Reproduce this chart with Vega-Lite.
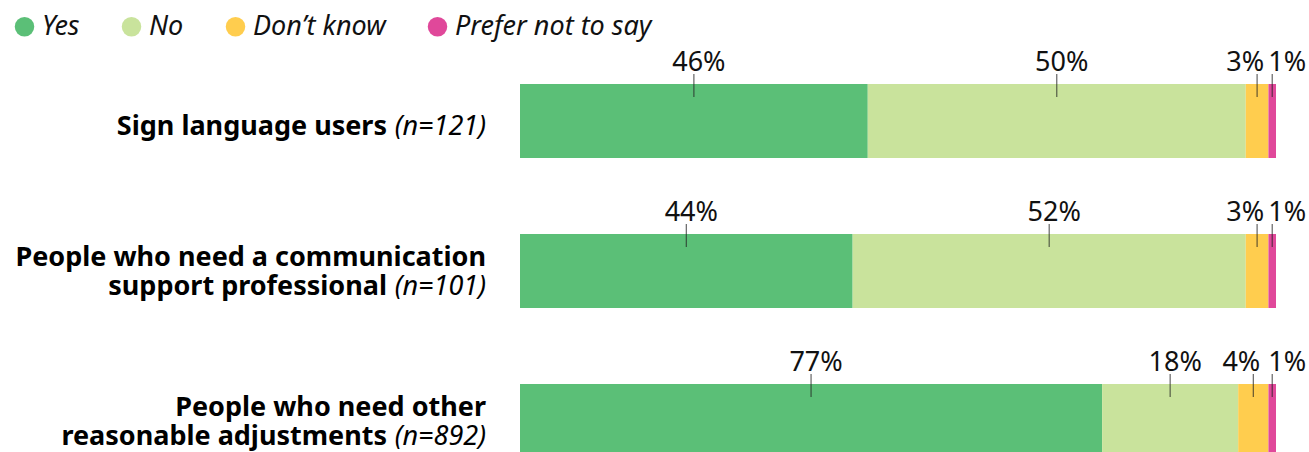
{
  "$schema": "https://vega.github.io/schema/vega-lite/v6.json",
  "width": 756,
  "height": 406,
  "autosize": {"type": "none"},
  "padding": {"left": 520, "top": 46, "right": 33, "bottom": 0},
  "background": "white",
  "config": {"view": {"stroke": null}, "font": "Noto Sans"},
  "datasets": {
    "bars": [
      {"group": "Sign language users", "response": "Yes", "value": 46},
      {"group": "Sign language users", "response": "No", "value": 50},
      {"group": "Sign language users", "response": "Don’t know", "value": 3},
      {"group": "Sign language users", "response": "Prefer not to say", "value": 1},
      {"group": "Communication support", "response": "Yes", "value": 44},
      {"group": "Communication support", "response": "No", "value": 52},
      {"group": "Communication support", "response": "Don’t know", "value": 3},
      {"group": "Communication support", "response": "Prefer not to say", "value": 1},
      {"group": "Other adjustments", "response": "Yes", "value": 77},
      {"group": "Other adjustments", "response": "No", "value": 18},
      {"group": "Other adjustments", "response": "Don’t know", "value": 4},
      {"group": "Other adjustments", "response": "Prefer not to say", "value": 1}
    ],
    "labels": [
      {"group": "Sign language users", "lines": 1, "first": "", "last": "Sign language users", "n": "(n=121)"},
      {"group": "Communication support", "lines": 2, "first": "People who need a communication", "last": "support professional", "n": "(n=101)"},
      {"group": "Other adjustments", "lines": 2, "first": "People who need other", "last": "reasonable adjustments", "n": "(n=892)"}
    ]
  },
  "encoding": {
    "y": {
      "field": "group",
      "type": "nominal",
      "sort": ["Sign language users", "Communication support", "Other adjustments"],
      "axis": null,
      "scale": {"paddingInner": 0.5067, "paddingOuter": 0.1067, "align": 1}
    }
  },
  "layer": [
    {
      "data": {"name": "bars"},
      "transform": [
        {"calculate": "indexof(['Yes','No','Don’t know','Prefer not to say'], datum.response)", "as": "ord"},
        {"stack": "value", "groupby": ["group"], "sort": [{"field": "ord", "order": "ascending"}], "as": ["x0", "x1"]},
        {"calculate": "(datum.x0 + datum.x1) / 2", "as": "mid"},
        {"calculate": "datum.value + '%'", "as": "lab"}
      ],
      "layer": [
        {
          "mark": {"type": "bar", "yOffset": 6},
          "encoding": {
            "x": {"field": "x0", "type": "quantitative", "scale": {"domain": [0, 100], "nice": false, "zero": true}, "axis": null},
            "x2": {"field": "x1"},
            "color": {
              "field": "response",
              "type": "nominal",
              "scale": {
                "domain": ["Yes", "No", "Don’t know", "Prefer not to say"],
                "range": ["#5bbf77", "#c9e39c", "#ffcd4e", "#e0489a"]
              },
              "legend": {
                "title": null,
                "orient": "none",
                "direction": "horizontal",
                "legendX": -509,
                "legendY": -33,
                "symbolType": "circle",
                "symbolSize": 380,
                "symbolStrokeWidth": 0,
                "symbolOpacity": 1,
                "labelFontSize": 27,
                "labelFontStyle": "italic",
                "labelFont": "Noto Sans",
                "labelColor": "#111111",
                "labelOffset": 4,
                "columnPadding": 38,
                "labelLimit": 400
              }
            }
          }
        },
        {
          "mark": {"type": "tick", "orient": "vertical", "size": 23, "thickness": 1.2, "color": "#222222", "yOffset": -29.5},
          "encoding": {
            "x": {"field": "mid", "type": "quantitative"}
          }
        },
        {
          "transform": [{"filter": "datum.ord <= 1"}],
          "mark": {"type": "text", "fontSize": 27, "align": "center", "baseline": "alphabetic", "dy": -44, "dx": 5, "color": "#111111"},
          "encoding": {
            "x": {"field": "mid", "type": "quantitative"},
            "text": {"field": "lab"}
          }
        },
        {
          "transform": [{"filter": "datum.ord == 2"}],
          "mark": {"type": "text", "fontSize": 27, "align": "right", "baseline": "alphabetic", "dy": -44, "dx": 7, "color": "#111111"},
          "encoding": {
            "x": {"field": "mid", "type": "quantitative"},
            "text": {"field": "lab"}
          }
        },
        {
          "transform": [{"filter": "datum.ord == 3"}],
          "mark": {"type": "text", "fontSize": 27, "align": "left", "baseline": "alphabetic", "dy": -44, "dx": -4, "color": "#111111"},
          "encoding": {
            "x": {"field": "mid", "type": "quantitative"},
            "text": {"field": "lab"}
          }
        }
      ]
    },
    {
      "data": {"name": "labels"},
      "layer": [
        {
          "transform": [{"filter": "datum.lines == 1"}],
          "mark": {"type": "text", "fontSize": 27, "fontWeight": "bold", "align": "right", "baseline": "alphabetic", "dy": 20, "dx": -133, "color": "#000000"},
          "encoding": {"x": {"datum": 0, "type": "quantitative"}, "text": {"field": "last"}}
        },
        {
          "transform": [{"filter": "datum.lines == 1"}],
          "mark": {"type": "text", "fontSize": 27, "fontStyle": "italic", "align": "right", "baseline": "alphabetic", "dy": 20, "dx": -34, "color": "#000000"},
          "encoding": {"x": {"datum": 0, "type": "quantitative"}, "text": {"field": "n"}}
        },
        {
          "transform": [{"filter": "datum.lines == 2"}],
          "mark": {"type": "text", "fontSize": 27, "fontWeight": "bold", "align": "right", "baseline": "alphabetic", "dy": 1, "dx": -34, "color": "#000000"},
          "encoding": {"x": {"datum": 0, "type": "quantitative"}, "text": {"field": "first"}}
        },
        {
          "transform": [{"filter": "datum.lines == 2"}],
          "mark": {"type": "text", "fontSize": 27, "fontWeight": "bold", "align": "right", "baseline": "alphabetic", "dy": 30, "dx": -133, "color": "#000000"},
          "encoding": {"x": {"datum": 0, "type": "quantitative"}, "text": {"field": "last"}}
        },
        {
          "transform": [{"filter": "datum.lines == 2"}],
          "mark": {"type": "text", "fontSize": 27, "fontStyle": "italic", "align": "right", "baseline": "alphabetic", "dy": 30, "dx": -34, "color": "#000000"},
          "encoding": {"x": {"datum": 0, "type": "quantitative"}, "text": {"field": "n"}}
        }
      ]
    }
  ]
}
